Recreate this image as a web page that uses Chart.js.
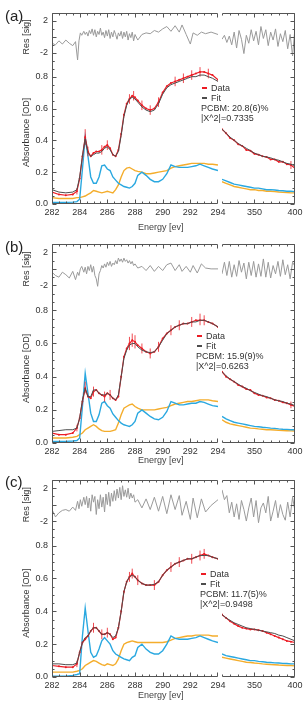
<!DOCTYPE html>
<html>
<head>
<meta charset="utf-8">
<script src="https://cdn.jsdelivr.net/npm/chart.js@4.4.0/dist/chart.umd.min.js"></script>
<style>
  html, body { margin: 0; padding: 0; background: #fff; width: 303px; height: 703px; overflow: hidden; }
  body { position: relative; font-family: "Liberation Sans", Arial, sans-serif; color: #333; }
  canvas { position: absolute; }
  .tag { position: absolute; font-size: 15px; line-height: 15px; color: #222; }
  .xt { position: absolute; font-size: 9px; line-height: 10px; color: #444; }
  .leg { position: absolute; font-size: 9px; line-height: 10px; color: #333; white-space: nowrap; }
  .leg i { display: inline-block; width: 5px; height: 1.5px; vertical-align: middle; margin: 0 4px 1px 1px; }
</style>
</head>
<body>
<script>
// energy grid (eV), shared by the three spectra
const energyLo = [282, 282.5, 283, 283.5, 283.8, 284.0, 284.2, 284.4, 284.6, 284.8,
  285.0, 285.2, 285.4, 285.6, 285.8, 286.0, 286.2, 286.4, 286.6, 286.8,
  287.0, 287.2, 287.4, 287.6, 287.8, 288.0, 288.2, 288.5, 288.8, 289.1,
  289.4, 289.7, 290.0, 290.3, 290.6, 290.9, 291.2, 291.5, 291.8, 292.1,
  292.4, 292.7, 293.0, 293.3, 293.6, 294.0];
const energyHi = [310, 315, 320, 325, 330, 335, 340, 345, 350, 355, 360, 365, 370, 375, 380, 385, 390, 395, 400];
const resEnergyLo = [282, 282.25, 282.5, 282.75, 283, 283.25, 283.5, 283.7, 283.85, 283.95,
  284.05, 284.15, 284.3, 284.4, 284.5, 284.6, 284.7, 284.8, 284.9, 285.0,
  285.1, 285.2, 285.3, 285.4, 285.5, 285.6, 285.7, 285.8, 285.9, 286.0,
  286.1, 286.2, 286.3, 286.4, 286.5, 286.6, 286.7, 286.8, 286.9, 287.0,
  287.1, 287.2, 287.3, 287.4, 287.5, 287.6, 287.7, 287.8, 287.9, 288.0,
  288.2, 288.5, 288.8, 289.1, 289.4, 289.7, 290.0, 290.3, 290.6, 290.9,
  291.2, 291.4, 291.7, 292.0, 292.2, 292.5, 292.8, 293.1, 293.5, 294.0];
const resEnergyHi = [310, 313, 316, 319, 322, 325, 328, 331, 334, 337, 340, 343, 346, 349, 352, 355,
  358, 361, 364, 367, 370, 373, 376, 379, 382, 385, 388, 391, 394, 397, 400];

const xTicksLo = [282, 284, 286, 288, 290, 292, 294];
const xTicksHi = [350, 400];
const resTicks = [-2, 0, 2];
const absTicks = [0, 0.2, 0.4, 0.6, 0.8];

// panel (a)
const dataA = [0.075, 0.06, 0.055, 0.06, 0.08, 0.16, 0.30, 0.42, 0.33, 0.30,
  0.32, 0.33, 0.33, 0.34, 0.36, 0.37, 0.35, 0.31, 0.30, 0.34,
  0.44, 0.56, 0.63, 0.66, 0.68, 0.67, 0.65, 0.62, 0.60, 0.59,
  0.60, 0.64, 0.70, 0.74, 0.76, 0.77, 0.78, 0.79, 0.80, 0.81,
  0.82, 0.83, 0.83, 0.82, 0.81, 0.78];
const fitA = [0.09, 0.075, 0.07, 0.075, 0.09, 0.17, 0.30, 0.41, 0.32, 0.30,
  0.31, 0.32, 0.32, 0.33, 0.35, 0.36, 0.34, 0.31, 0.30, 0.33,
  0.43, 0.55, 0.62, 0.66, 0.67, 0.66, 0.64, 0.61, 0.59, 0.58,
  0.59, 0.63, 0.69, 0.73, 0.75, 0.76, 0.77, 0.78, 0.79, 0.80,
  0.80, 0.81, 0.81, 0.80, 0.79, 0.77];
const pcA = [0.01, 0.01, 0.01, 0.012, 0.015, 0.03, 0.22, 0.42, 0.30, 0.17,
  0.13, 0.13, 0.17, 0.24, 0.245, 0.22, 0.21, 0.17, 0.15, 0.13,
  0.12, 0.11, 0.105, 0.10, 0.11, 0.13, 0.18, 0.20, 0.18, 0.155,
  0.14, 0.14, 0.155, 0.19, 0.245, 0.235, 0.23, 0.23, 0.23, 0.235,
  0.24, 0.25, 0.24, 0.23, 0.22, 0.21];
const pcbmA = [0.04, 0.035, 0.035, 0.035, 0.04, 0.04, 0.045, 0.05, 0.06, 0.07,
  0.085, 0.08, 0.075, 0.07, 0.075, 0.08, 0.075, 0.07, 0.09, 0.12,
  0.17, 0.21, 0.225, 0.23, 0.22, 0.21, 0.205, 0.20, 0.19, 0.19,
  0.195, 0.20, 0.205, 0.21, 0.225, 0.235, 0.24, 0.245, 0.25, 0.255,
  0.255, 0.255, 0.255, 0.25, 0.25, 0.245];
const dataHiA = [0.47, 0.445, 0.415, 0.40, 0.375, 0.365, 0.34, 0.335, 0.315, 0.31, 0.30, 0.295, 0.28, 0.28, 0.265, 0.265, 0.25, 0.245, 0.225];
const fitHiA = [0.47, 0.445, 0.42, 0.40, 0.38, 0.365, 0.35, 0.335, 0.32, 0.31, 0.30, 0.295, 0.29, 0.28, 0.275, 0.265, 0.255, 0.25, 0.24];
const pcHiA = [0.155, 0.145, 0.135, 0.125, 0.12, 0.115, 0.11, 0.105, 0.10, 0.10, 0.095, 0.09, 0.09, 0.088, 0.085, 0.083, 0.08, 0.08, 0.078];
const pcbmHiA = [0.14, 0.13, 0.12, 0.11, 0.105, 0.10, 0.095, 0.09, 0.09, 0.085, 0.085, 0.08, 0.08, 0.078, 0.075, 0.073, 0.072, 0.07, 0.07];
const resA = [-0.8, -1.0, -0.5, -0.9, -0.4, -0.8, -1.1, -0.6, -2.9, -0.5,
  0.5, 0.2,
  0.7, 0.3, 0.6, 0.1, 0.8, 0.4, 1.0, 0.2, 0.9, 0.0, 0.7, 0.3, 1.1, 0.2, 0.6, -0.1, 0.8, 0.1, 0.9, -0.2,
  0.6, 0.0, 0.8, 0.3, -0.3, 0.5, 0.1, 0.7, -0.2, 0.6, 0.0, 0.7, -0.4, 0.4, -0.1, 0.6, -0.5, 0.3,
  -0.4, 0.3, 0.5, 0.4, 0.8, 0.6, 1.0, 1.3, 0.7, 1.4, 0.6,
  1.5, 0.3, -0.9, 0.5, 0.2, 0.6, 0.4, 0.6, 0.3];
const resHiA = [-0.3, 0.2, -0.7, 0.1, -1.0, 0.6, -1.4, 0.8, -0.3, -2.1, 0.2, -0.8, 0.9, -0.5, 0.7, -1.0,
  1.3, -0.2, 0.9, -1.1, 0.6, -0.4, 1.0, -1.2, 0.4, -0.6, 0.8, -1.5, 0.3, -2.4, 1.2];
const errEA = [282.0, 283.8, 284.4, 284.6, 285.6, 286.0, 287.6, 287.9, 288.5, 289.1, 289.7, 290.9, 291.5, 292.1, 292.7, 293.3, 395, 400];
const errLoA = [0.05, 0.06, 0.37, 0.30, 0.31, 0.34, 0.63, 0.65, 0.59, 0.56, 0.61, 0.74, 0.76, 0.78, 0.80, 0.79, 0.22, 0.20];
const errHiA = [0.10, 0.10, 0.47, 0.36, 0.37, 0.40, 0.69, 0.71, 0.65, 0.62, 0.67, 0.80, 0.82, 0.84, 0.86, 0.85, 0.27, 0.26];

// panel (b)
const dataB = [0.06, 0.05, 0.05, 0.06, 0.09, 0.15, 0.25, 0.33, 0.28, 0.27,
  0.31, 0.32, 0.30, 0.29, 0.28, 0.30, 0.29, 0.27, 0.26, 0.28,
  0.40, 0.52, 0.57, 0.60, 0.62, 0.61, 0.59, 0.57, 0.55, 0.54,
  0.55, 0.58, 0.63, 0.66, 0.68, 0.70, 0.71, 0.72, 0.72, 0.73,
  0.74, 0.74, 0.74, 0.73, 0.72, 0.70];
const fitB = [0.07, 0.075, 0.08, 0.08, 0.09, 0.15, 0.26, 0.33, 0.28, 0.28,
  0.32, 0.32, 0.30, 0.29, 0.29, 0.30, 0.29, 0.27, 0.26, 0.29,
  0.40, 0.51, 0.56, 0.59, 0.60, 0.60, 0.58, 0.56, 0.55, 0.545,
  0.55, 0.58, 0.62, 0.66, 0.68, 0.70, 0.71, 0.72, 0.72, 0.73,
  0.73, 0.74, 0.74, 0.73, 0.72, 0.70];
const pcB = [0.01, 0.01, 0.01, 0.012, 0.015, 0.03, 0.22, 0.42, 0.30, 0.18,
  0.13, 0.13, 0.17, 0.24, 0.25, 0.225, 0.21, 0.175, 0.155, 0.135,
  0.12, 0.11, 0.105, 0.10, 0.11, 0.13, 0.18, 0.20, 0.18, 0.16,
  0.145, 0.14, 0.155, 0.19, 0.25, 0.24, 0.23, 0.23, 0.235, 0.24,
  0.24, 0.25, 0.245, 0.235, 0.225, 0.22];
const pcbmB = [0.03, 0.03, 0.03, 0.035, 0.04, 0.05, 0.06, 0.08, 0.09, 0.10,
  0.11, 0.10, 0.085, 0.075, 0.07, 0.07, 0.07, 0.075, 0.08, 0.12,
  0.17, 0.21, 0.22, 0.23, 0.235, 0.22, 0.21, 0.20, 0.20, 0.20,
  0.20, 0.205, 0.21, 0.215, 0.225, 0.235, 0.24, 0.245, 0.25, 0.25,
  0.255, 0.26, 0.26, 0.26, 0.255, 0.25];
const dataHiB = [0.43, 0.40, 0.385, 0.37, 0.35, 0.34, 0.325, 0.32, 0.30, 0.29, 0.285, 0.275, 0.27, 0.26, 0.255, 0.245, 0.24, 0.23, 0.22];
const fitHiB = [0.43, 0.405, 0.385, 0.37, 0.355, 0.34, 0.33, 0.315, 0.305, 0.295, 0.285, 0.28, 0.27, 0.26, 0.255, 0.25, 0.24, 0.235, 0.225];
const pcHiB = [0.16, 0.145, 0.135, 0.125, 0.12, 0.115, 0.11, 0.105, 0.10, 0.098, 0.095, 0.093, 0.09, 0.088, 0.085, 0.083, 0.082, 0.08, 0.08];
const pcbmHiB = [0.14, 0.125, 0.115, 0.11, 0.105, 0.10, 0.095, 0.09, 0.088, 0.085, 0.083, 0.08, 0.08, 0.078, 0.076, 0.075, 0.074, 0.073, 0.072];
const resB = [-0.4, -0.8, -1.0, -0.4, -0.7, -1.1, -0.3, -1.3, -0.4, -0.8,
  0.0, 0.3,
  -0.4, 0.2, -0.6, 0.3, -0.2, 0.5, -0.4, 0.3, -0.8, -1.2, -2.1, -0.6, -0.2, 0.4, 0.1, 0.6, 0.2, 0.8, 0.4, 0.9,
  0.3, 0.7, 0.5, 1.0, 0.6, 1.3, 0.9, 1.2, 0.8, 1.3, 0.9, 1.1, 0.7, 1.0, 0.6, 0.9, 0.4, 0.6,
  0.1, 0.3, -0.2, 0.4, -0.3, 0.3, -0.2, 0.5, 0.7, -0.2, 0.5,
  -0.3, 0.3, -0.4, 0.4, -0.5, 0.6, 0.1, 0.0, 0.0];
const resHiB = [-0.6, 0.8, -0.8, 0.9, -1.0, 0.5, -0.9, 1.0, -0.4, 0.7, -1.2, 0.8, -0.8, 0.9, -1.0, 0.6,
  -0.9, 1.2, -1.0, 0.8, -1.1, 0.4, -0.6, 0.9, -0.9, 1.1, -0.7, 0.5, -1.2, 0.8, 0.3];
const errEB = [283.8, 284.4, 285.0, 285.8, 286.2, 287.6, 287.8, 288.0, 288.5, 289.1, 289.7, 290.6, 291.2, 292.1, 292.7, 293.0, 395, 400];
const errLoB = [0.07, 0.30, 0.28, 0.25, 0.26, 0.56, 0.58, 0.57, 0.54, 0.51, 0.55, 0.65, 0.68, 0.70, 0.71, 0.71, 0.21, 0.20];
const errHiB = [0.11, 0.37, 0.34, 0.31, 0.32, 0.64, 0.66, 0.65, 0.60, 0.57, 0.61, 0.71, 0.74, 0.76, 0.78, 0.77, 0.25, 0.24];

// panel (c)
const dataC = [0.07, 0.065, 0.06, 0.06, 0.08, 0.15, 0.21, 0.23, 0.25, 0.28,
  0.30, 0.30, 0.28, 0.26, 0.26, 0.27, 0.26, 0.23, 0.24, 0.30,
  0.40, 0.52, 0.58, 0.61, 0.63, 0.61, 0.59, 0.57, 0.56, 0.56,
  0.56, 0.58, 0.62, 0.65, 0.67, 0.69, 0.70, 0.71, 0.72, 0.72,
  0.73, 0.74, 0.75, 0.74, 0.73, 0.72];
const fitC = [0.08, 0.08, 0.075, 0.075, 0.085, 0.15, 0.21, 0.24, 0.25, 0.28,
  0.30, 0.30, 0.28, 0.26, 0.26, 0.27, 0.26, 0.24, 0.25, 0.30,
  0.40, 0.52, 0.58, 0.61, 0.62, 0.61, 0.59, 0.57, 0.56, 0.56,
  0.565, 0.58, 0.62, 0.65, 0.67, 0.69, 0.70, 0.71, 0.72, 0.72,
  0.73, 0.74, 0.74, 0.74, 0.73, 0.72];
const pcC = [0.005, 0.005, 0.005, 0.01, 0.015, 0.02, 0.25, 0.42, 0.28, 0.15,
  0.12, 0.13, 0.17, 0.22, 0.24, 0.22, 0.20, 0.16, 0.14, 0.13,
  0.12, 0.11, 0.105, 0.10, 0.12, 0.13, 0.18, 0.20, 0.17, 0.15,
  0.14, 0.14, 0.16, 0.20, 0.25, 0.235, 0.23, 0.23, 0.23, 0.235,
  0.24, 0.25, 0.24, 0.23, 0.22, 0.21];
const pcbmC = [0.03, 0.03, 0.03, 0.03, 0.035, 0.04, 0.05, 0.07, 0.08, 0.09,
  0.10, 0.095, 0.085, 0.075, 0.07, 0.08, 0.075, 0.07, 0.08, 0.11,
  0.16, 0.20, 0.21, 0.215, 0.22, 0.215, 0.21, 0.21, 0.21, 0.21,
  0.21, 0.21, 0.21, 0.215, 0.225, 0.235, 0.24, 0.245, 0.25, 0.25,
  0.255, 0.255, 0.255, 0.255, 0.25, 0.25];
const dataHiC = [0.38, 0.36, 0.34, 0.325, 0.31, 0.30, 0.295, 0.29, 0.29, 0.285, 0.28, 0.27, 0.26, 0.25, 0.24, 0.23, 0.22, 0.215, 0.21];
const fitHiC = [0.38, 0.36, 0.345, 0.33, 0.32, 0.31, 0.30, 0.295, 0.29, 0.285, 0.28, 0.275, 0.27, 0.265, 0.255, 0.25, 0.24, 0.23, 0.22];
const pcHiC = [0.14, 0.13, 0.125, 0.12, 0.115, 0.11, 0.105, 0.10, 0.10, 0.095, 0.093, 0.09, 0.088, 0.086, 0.085, 0.083, 0.082, 0.08, 0.08];
const pcbmHiC = [0.12, 0.115, 0.11, 0.105, 0.10, 0.095, 0.09, 0.088, 0.085, 0.083, 0.08, 0.078, 0.076, 0.075, 0.073, 0.072, 0.07, 0.07, 0.068];
const resC = [-0.6, -1.5, -1.0, -0.7, -0.6, -0.8, -0.3, -0.7, 0.4, -0.5,
  0.6, -0.2,
  0.9, 0.0, 1.0, -0.4, 0.8, -0.8, 1.2, 0.3, 1.0, -1.2, 0.6, -0.5, 1.2, -0.3, 0.9, -0.9, 1.3, 0.0, 1.5, -0.2,
  1.4, 0.4, 1.7, 0.5, 1.9, 0.8, 2.1, 0.6, 2.3, 1.0, 1.8, 0.9, 2.0, 0.7, 1.4, 0.8, 1.2, 0.3,
  0.6, -0.4, 0.7, -0.6, 0.9, -0.8, 1.0, -1.1, 1.2, -0.6, 1.1,
  -1.3, 0.4, -1.8, 0.8, -1.6, 0.7, -0.9, -0.1, 0.6];
const resHiC = [1.8, 0.6, 1.1, -1.0, 0.3, -1.5, 0.1, -1.8, 0.5, -0.6, -2.0, -0.4, 0.8, -1.5, 0.5, -2.2,
  -0.4, 0.2, -1.0, 1.0, -2.0, -0.8, 0.5, -1.6, 0.0, -1.2, -1.9, 0.3, -1.5, 0.9, -0.8];
const errEC = [282.0, 283.8, 285.0, 285.6, 286.0, 287.6, 287.8, 288.2, 289.4, 290.6, 291.2, 292.1, 292.7, 293.0, 400];
const errLoC = [0.05, 0.06, 0.27, 0.23, 0.24, 0.58, 0.60, 0.56, 0.53, 0.64, 0.67, 0.69, 0.71, 0.72, 0.19];
const errHiC = [0.09, 0.10, 0.33, 0.29, 0.30, 0.64, 0.66, 0.62, 0.59, 0.70, 0.73, 0.75, 0.77, 0.78, 0.23];

const RED = '#ec1c24', FIT = '#4d4d4d', BLUE = '#2aa8e0', ORANGE = '#f4ad2c', RES = '#9a9a9a', FRAME = '#555';
const FONT = { family: '"Liberation Sans", Arial, sans-serif', size: 9 };

const panels = [
  { tag: '(a)', top: 13, bottom: 204, tagY: 8, energyY: 222, legX: 201, legY: 83,
    data: dataA, fit: fitA, pc: pcA, pcbm: pcbmA, dataHi: dataHiA, fitHi: fitHiA, pcHi: pcHiA, pcbmHi: pcbmHiA,
    res: resA, resHi: resHiA, errE: errEA, errLo: errLoA, errHi: errHiA,
    pcbmText: 'PCBM: 20.8(6)%', chiText: '|X^2|=0.7335' },
  { tag: '(b)', top: 244, bottom: 443, tagY: 239, energyY: 455, legX: 196, legY: 331,
    data: dataB, fit: fitB, pc: pcB, pcbm: pcbmB, dataHi: dataHiB, fitHi: fitHiB, pcHi: pcHiB, pcbmHi: pcbmHiB,
    res: resB, resHi: resHiB, errE: errEB, errLo: errLoB, errHi: errHiB,
    pcbmText: 'PCBM: 15.9(9)%', chiText: '|X^2|=0.6263' },
  { tag: '(c)', top: 480, bottom: 677, tagY: 474, energyY: 690, legX: 200, legY: 569,
    data: dataC, fit: fitC, pc: pcC, pcbm: pcbmC, dataHi: dataHiC, fitHi: fitHiC, pcHi: pcHiC, pcbmHi: pcbmHiC,
    res: resC, resHi: resHiC, errE: errEC, errLo: errLoC, errHi: errHiC,
    pcbmText: 'PCBM: 11.7(5)%', chiText: '|X^2|=0.9498' },
];

function pts(xs, ys) { return xs.map((x, i) => ({ x, y: ys[i] })); }

// vertical error bars as one broken line: lo, hi, gap
function errPts(xs, lo, hi, xmin, xmax) {
  const out = [];
  xs.forEach((x, i) => {
    if (x < xmin || x > xmax) return;
    out.push({ x, y: lo[i] }, { x, y: hi[i] }, { x, y: null });
  });
  return out;
}

function eachTick(min, max, minor, major, fn) {
  const n0 = Math.ceil(min / minor - 1e-6), n1 = Math.floor(max / minor + 1e-6);
  for (let n = n0; n <= n1; n++) {
    const v = n * minor, r = v / major;
    fn(v, Math.abs(r - Math.round(r)) < 1e-6);
  }
}

// frame with inward ticks (Igor style), open on the side of the axis break
const frameTicks = {
  id: 'frameTicks',
  afterDatasetsDraw(chart, args, o) {
    const { ctx, chartArea: a, scales } = chart;
    const L = Math.round(a.left) + 0.5, R = Math.round(a.right) - 0.5;
    const T = Math.round(a.top) + 0.5, B = Math.round(a.bottom) - 0.5;
    ctx.save();
    ctx.strokeStyle = FRAME;
    ctx.lineWidth = 1;
    ctx.beginPath();
    ctx.moveTo(L, T); ctx.lineTo(R, T);
    ctx.moveTo(L, B); ctx.lineTo(R, B);
    const yx = o.side === 'left' ? L : R;
    ctx.moveTo(yx, T); ctx.lineTo(yx, B);
    const sx = scales.x;
    eachTick(sx.min, sx.max, o.xMinor, o.xMajor, (v, major) => {
      const p = Math.round(sx.getPixelForValue(v)) + (v === sx.max ? -0.5 : 0.5);
      const len = major ? 4 : 2;
      ctx.moveTo(p, B); ctx.lineTo(p, B - len);
      ctx.moveTo(p, T); ctx.lineTo(p, T + len);
    });
    const dir = o.side === 'left' ? 1 : -1;
    [['yRes', 1, 2], ['yAbs', 0.05, 0.2]].forEach(([id, minor, major]) => {
      const s = scales[id];
      eachTick(s.min, s.max, minor, major, (v, isMajor) => {
        const p = Math.round(s.getPixelForValue(v)) + 0.5;
        ctx.moveTo(yx, p); ctx.lineTo(yx + dir * (isMajor ? 4 : 2), p);
      });
    });
    ctx.stroke();
    ctx.restore();
  }
};

function makeChart(p, side, top, height) {
  const lo = side === 'left';
  const cv = document.createElement('canvas');
  const w = lo ? 240 : 110;
  cv.width = w; cv.height = height;
  cv.style.left = (lo ? 0 : 200) + 'px';
  cv.style.top = top + 'px';
  cv.style.width = w + 'px'; cv.style.height = height + 'px';
  document.body.appendChild(cv);

  const xs = lo ? energyLo : energyHi;
  const rx = lo ? resEnergyLo : resEnergyHi;
  const xmin = lo ? 282 : 310, xmax = lo ? 294 : 400;
  const line = (color, width) => ({ borderColor: color, backgroundColor: color, borderWidth: width, pointRadius: 0, tension: 0, yAxisID: 'yAbs' });

  const datasets = [
    Object.assign(line(FIT, 1), { label: 'Fit', data: pts(xs, lo ? p.fit : p.fitHi) }),
    Object.assign(line(RED, 1.2), { label: 'Data', data: pts(xs, lo ? p.data : p.dataHi), pointRadius: 1, pointBorderWidth: 0 }),
    Object.assign(line(RED, 0.8), { label: 'err', data: errPts(p.errE, p.errLo, p.errHi, xmin, xmax), spanGaps: false }),
    Object.assign(line(BLUE, 1.4), { label: 'PC', data: pts(xs, lo ? p.pc : p.pcHi) }),
    Object.assign(line(ORANGE, 1.4), { label: 'PCBM', data: pts(xs, lo ? p.pcbm : p.pcbmHi) }),
    Object.assign(line(RES, 1), { label: 'Res', data: pts(rx, lo ? p.res : p.resHi), yAxisID: 'yRes' }),
  ];

  const yBase = (min, max, ticks, weight, title) => ({
    type: 'linear', position: lo ? 'left' : 'right', stack: 'v', stackWeight: weight, min, max,
    afterBuildTicks: s => { s.ticks = ticks.map(v => ({ value: v })); },
    afterFit: s => { s.width = lo ? 52 : 0; },
    grid: { display: false, drawTicks: false }, border: { display: false },
    ticks: { display: lo, padding: 4, color: '#333', font: FONT,
      callback: v => (title === 'Res [sig]' ? String(v) : v.toFixed(1)) },
    title: { display: lo, text: title, color: '#333', font: FONT, padding: { top: 21, bottom: 0 } },
  });

  const xScale = { type: 'linear', min: xmin, max: xmax,
    afterBuildTicks: s => { s.ticks = (lo ? xTicksLo : xTicksHi).map(v => ({ value: v })); },
    afterFit: s => { s.height = 20; },
    grid: { display: false, drawTicks: false }, border: { display: false },
    ticks: { autoSkip: false, maxRotation: 0, padding: 3, color: '#333', font: FONT } };
  const yRes = yBase(-3, 3, resTicks, 1, 'Res [sig]');
  const yAbs = yBase(0, 0.9, absTicks, 3, 'Absorbance [OD]');
  // left-side stacks are laid out in reverse order, so key order differs per side
  const scales = lo ? { x: xScale, yAbs, yRes } : { x: xScale, yRes, yAbs };

  return new Chart(cv, {
    type: 'line',
    data: { datasets },
    options: {
      responsive: false, animation: false,
      layout: { padding: lo ? { top: 13, left: 0, right: 22, bottom: 0 } : { top: 13, left: 22, right: 15, bottom: 0 } },
      plugins: { legend: { display: false }, tooltip: { enabled: false },
        frameTicks: { side, xMinor: lo ? 0.5 : 10, xMajor: lo ? 2 : 50 } },
      scales,
    },
    plugins: [frameTicks],
  });
}

panels.forEach(p => {
  const top = p.top - 13, height = p.bottom - p.top + 13 + 20;
  makeChart(p, 'left', top, height);
  makeChart(p, 'right', top, height);

  const tag = document.createElement('div');
  tag.className = 'tag';
  tag.style.left = '5px'; tag.style.top = p.tagY + 'px';
  tag.textContent = p.tag;
  document.body.appendChild(tag);

  const xt = document.createElement('div');
  xt.className = 'xt';
  xt.style.left = '138px'; xt.style.top = p.energyY + 'px';
  xt.textContent = 'Energy [ev]';
  document.body.appendChild(xt);

  const leg = document.createElement('div');
  leg.className = 'leg';
  leg.style.left = p.legX + 'px'; leg.style.top = p.legY + 'px';
  leg.innerHTML = '<div><i style="background:' + RED + '"></i>Data</div>' +
    '<div><i style="background:' + FIT + '"></i>Fit</div>' +
    '<div>' + p.pcbmText + '</div><div>' + p.chiText + '</div>';
  document.body.appendChild(leg);
});
</script>
</body>
</html>
